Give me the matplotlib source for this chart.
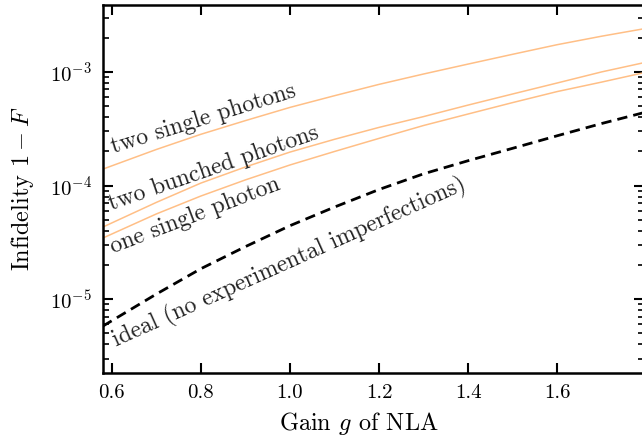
import numpy as np
import matplotlib
matplotlib.use('Agg')
import matplotlib.pyplot as plt

# Computer Modern look
plt.rcParams['font.family'] = 'serif'
plt.rcParams['font.serif'] = ['cmr10', 'DejaVu Serif']
plt.rcParams['mathtext.fontset'] = 'cm'
plt.rcParams['axes.formatter.use_mathtext'] = True

# values
gain = [0.58, 0.7, 0.8, 0.9, 1.0, 1.1, 1.2, 1.3, 1.4, 1.5, 1.6, 1.7, 1.8]
two_single = [1.393e-4, 2.073e-4, 2.82e-4, 3.72e-4, 4.86e-4, 6.16e-4, 7.75e-4,
              9.56e-4, 1.169e-3, 1.425e-3, 1.731e-3, 2.056e-3, 2.41e-3]
two_bunched = [4.31e-5, 7.10e-5, 1.050e-4, 1.455e-4, 1.967e-4, 2.548e-4, 3.243e-4,
               4.036e-4, 5.096e-4, 6.38e-4, 7.97e-4, 9.98e-4, 1.215e-3]
one_single = [3.45e-5, 5.62e-5, 8.08e-5, 1.120e-4, 1.515e-4, 1.991e-4, 2.596e-4,
              3.37e-4, 4.254e-4, 5.36e-4, 6.70e-4, 8.12e-4, 9.92e-4]
ideal = [5.80e-6, 1.109e-5, 1.854e-5, 2.90e-5, 4.43e-5, 6.46e-5, 9.22e-5,
         1.267e-4, 1.652e-4, 2.124e-4, 2.738e-4, 3.51e-4, 4.43e-4]

labels = ['two single photons', 'two bunched photons', 'one single photon',
          'ideal (no experimental imperfections)']
label_x = [0.6036, 0.600, 0.6036, 0.6112]
label_y = [1.94e-4, 6.07e-5, 2.53e-5, 3.83e-6]
label_rot = [17.2, 19.1, 20.9, 24.2]

orange = '#ffbf86'

fig = plt.figure(figsize=(6.42, 4.45), dpi=100)
ax = fig.add_axes([0.16, 0.161, 0.843, 0.827])

ax.plot(gain, two_single, color=orange, lw=1.1)
ax.plot(gain, two_bunched, color=orange, lw=1.1)
ax.plot(gain, one_single, color=orange, lw=1.1)
ax.plot(gain, ideal, color='black', lw=2.0, dashes=(3.7, 2.2))

for t, x, y, r in zip(labels, label_x, label_y, label_rot):
    ax.text(x, y, t, rotation=r, rotation_mode='anchor', ha='left', va='baseline',
            fontsize=17, color='#222222')

ax.set_yscale('log')
ax.set_xlim(0.5798, 1.7948)
ax.set_ylim(2.23e-6, 3.84e-3)
ax.set_xticks([0.6, 0.8, 1.0, 1.2, 1.4, 1.6])
ax.set_xticklabels(['0.6', '0.8', '1.0', '1.2', '1.4', '1.6'])

ax.set_xlabel('Gain $g$ of NLA', fontsize=17.5, labelpad=8)
ax.xaxis.set_label_coords(0.473, -0.1)
ax.set_ylabel('Infidelity $1-F$', fontsize=17.5, labelpad=10)

ax.tick_params(which='both', direction='in', top=True, right=True, labelsize=15)
ax.tick_params(which='major', length=7, width=1.5, pad=8)
ax.tick_params(which='minor', length=4.5, width=1.2)
for s in ax.spines.values():
    s.set_linewidth(1.8)

fig.savefig('out.png', dpi=100)
